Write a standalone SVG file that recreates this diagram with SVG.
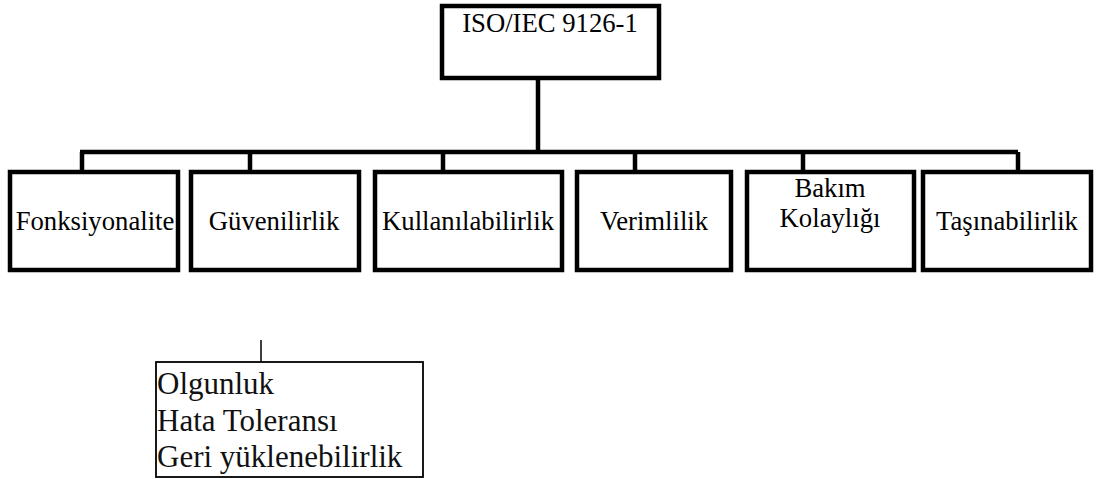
<svg xmlns="http://www.w3.org/2000/svg" width="1097" height="479" viewBox="0 0 1097 479">
<style>
.box{fill:#fff;stroke:#000;stroke-width:4.5}
.lbl{font-size:26.7px;fill:#000;text-anchor:middle}
.conn{stroke:#000;stroke-width:4.5;fill:none}
.thin{stroke:#000;stroke-width:1.5;fill:none}
.sub{font-size:31px;fill:#111}
</style>
<rect width="1097" height="479" fill="#fff"/>
<g id="connectors">
<path class="conn" d="M538,78 V152 M80,152 H1018 M82,152 V172 M250,152 V172 M443,152 V172 M635,152 V172 M803,152 V172 M1018,152 V172"/>
<path class="thin" d="M261,340 V362"/>
</g>
<g font-family="'Liberation Serif', 'DejaVu Serif', serif">
<g id="root">
<rect class="box" x="442" y="6" width="217" height="72"/>
<text class="lbl" x="550" y="32">ISO/IEC 9126-1</text>
</g>
<g id="n1">
<rect class="box" x="10" y="172" width="168" height="98"/>
<text class="lbl" x="95" y="230">Fonksiyonalite</text>
</g>
<g id="n2">
<rect class="box" x="191" y="172" width="168" height="98"/>
<text class="lbl" x="274" y="230">Güvenilirlik</text>
</g>
<g id="n3">
<rect class="box" x="375" y="172" width="187" height="98"/>
<text class="lbl" x="468" y="230">Kullanılabilirlik</text>
</g>
<g id="n4">
<rect class="box" x="577" y="172" width="154" height="98"/>
<text class="lbl" x="654" y="230">Verimlilik</text>
</g>
<g id="n5">
<rect class="box" x="747" y="172" width="167" height="98"/>
<text class="lbl" x="830" y="197">Bakım</text>
<text class="lbl" x="830" y="227">Kolaylığı</text>
</g>
<g id="n6">
<rect class="box" x="923" y="172" width="168" height="98"/>
<text class="lbl" x="1007" y="230">Taşınabilirlik</text>
</g>
<g id="sub">
<rect x="156" y="362" width="267" height="115" fill="#fff" stroke="#000" stroke-width="1.8"/>
<text class="sub"><tspan x="157" y="394">Olgunluk</tspan><tspan x="157" y="431">Hata Toleransı</tspan><tspan x="157" y="467">Geri yüklenebilirlik</tspan></text>
</g>
</g>
</svg>
